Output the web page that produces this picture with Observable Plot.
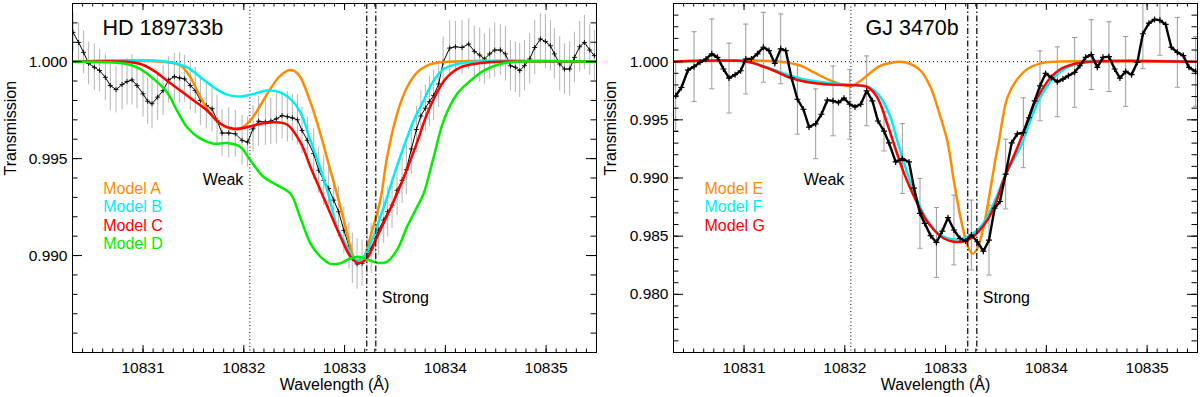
<!DOCTYPE html>
<html><head><meta charset="utf-8">
<script src="https://cdn.jsdelivr.net/npm/d3@7"></script>
<script src="https://cdn.jsdelivr.net/npm/@observablehq/plot@0.6"></script>
<style>
html,body{margin:0;padding:0;background:#fff;}
#wrap{display:flex;width:1200px;height:397px;overflow:hidden;}
#wrap svg{flex:none;}
</style></head><body><div id="wrap"></div>
<script>
// ---------- Line positions (He I triplet, Å) ----------
const weakLine = 10832.06;
const strongLines = [10833.22, 10833.31];

// ---------- Tick labels ----------
const xMajor = [10831, 10832, 10833, 10834, 10835];
const leftYMajor = [0.990, 0.995, 1.000];
const rightYMajor = [0.980, 0.985, 0.990, 0.995, 1.000];

// ---------- HD 189733b observed transmission ----------
const leftWave = [10830.305,10830.361,10830.410,10830.460,10830.517,10830.569,10830.626,10830.675,10830.732,10830.792,
10830.841,10830.891,10830.940,10831.000,10831.046,10831.089,10831.145,10831.199,10831.254,10831.311,
10831.363,10831.413,10831.469,10831.519,10831.569,10831.628,10831.685,10831.734,10831.784,10831.850,
10831.916,10831.983,10832.038,10832.092,10832.147,10832.214,10832.268,10832.323,10832.380,10832.432,
10832.482,10832.532,10832.578,10832.631,10832.693,10832.743,10832.793,10832.842,10832.892,10832.941,
10832.993,10833.043,10833.077,10833.124,10833.174,10833.223,10833.263,10833.306,10833.338,10833.388,
10833.428,10833.471,10833.521,10833.571,10833.613,10833.663,10833.713,10833.757,10833.802,10833.842,
10833.884,10833.934,10833.978,10834.043,10834.100,10834.166,10834.232,10834.288,10834.341,10834.388,
10834.440,10834.490,10834.546,10834.596,10834.646,10834.695,10834.738,10834.785,10834.837,10834.887,
10834.943,10834.993,10835.043,10835.082,10835.135,10835.182,10835.234,10835.281,10835.333,10835.380,
10835.433,10835.479];
const leftTrans = [1.00151,1.00099,1.00048,0.99991,0.99971,0.99954,0.99919,0.99877,0.99856,0.99882,
0.99897,0.99906,0.99877,0.99834,0.99796,0.99783,0.99817,0.99851,0.99906,0.99923,
0.99916,0.99911,0.99877,0.99851,0.99800,0.99774,0.99757,0.99697,0.99632,0.99632,
0.99628,0.99594,0.99585,0.99654,0.99693,0.99688,0.99693,0.99705,0.99722,0.99716,
0.99710,0.99700,0.99645,0.99594,0.99526,0.99440,0.99388,0.99346,0.99286,0.99226,
0.99130,0.99050,0.98986,0.98957,0.98960,0.99012,0.99037,0.99089,0.99131,0.99183,
0.99226,0.99260,0.99337,0.99388,0.99443,0.99550,0.99650,0.99720,0.99760,0.99795,
0.99825,0.99885,0.99997,1.00070,1.00077,1.00073,1.00091,1.00053,1.00034,1.00014,
1.00040,1.00060,1.00060,1.00040,0.99979,0.99971,0.99954,0.99979,1.00014,1.00073,
1.00117,1.00104,1.00082,1.00040,0.99988,0.99962,0.99962,1.00022,1.00077,1.00099,
1.00060,1.00031];
const leftErr = [0.0010,0.0010,0.0011,0.0011,0.0012,0.0011,0.0012,0.0013,0.0012,0.0013,0.0012,0.0013,0.0012,0.0012,
0.0012,0.0013,0.0012,0.0013,0.0012,0.0012,0.0013,0.0012,0.0013,0.0012,0.0013,0.0012,0.0012,0.0013,0.0012,0.0013,0.0012,0.0013,0.0013,0.0012,0.0013,0.0012,0.0012,0.0013,0.0012,0.0013,0.0012,0.0013,0.0012,0.0012,0.0013,
0.0012,0.0013,0.0012,0.0012,0.0013,0.0012,0.0012,0.0013,0.0013,0.0012,0.0012,0.0013,0.0012,0.0013,0.0012,0.0013,0.0012,0.0013,0.0012,0.0013,0.0013,0.0012,0.0013,0.0012,0.0013,0.0013,0.0012,
0.0013,0.0014,0.0013,0.0014,0.0013,0.0013,0.0014,0.0013,0.0013,0.0014,0.0013,0.0014,0.0013,0.0013,0.0014,0.0013,0.0013,0.0014,0.0013,0.0014,0.0013,0.0013,0.0014,0.0013,0.0014,0.0013,0.0013,0.0014,0.0013,0.0013];

// ---------- HD 189733b models ----------
const modelAWave = [10830.30,10831.172,10831.370,10831.469,10831.569,10831.668,10831.767,10831.867,10831.966,10832.065,10832.164,10832.264,10832.363,10832.462,10832.544,10832.661,10832.760,10832.859,10832.959,10833.025,10833.090,10833.140,10833.187,10833.256,10833.355,10833.422,10833.521,10833.620,10833.720,10833.819,10833.951,10835.50];
const modelATrans = [1.0,1.0,0.9998,0.9992,0.99817,0.99731,0.9968,0.99654,0.99654,0.99697,0.99774,0.9986,0.99928,0.99957,0.99933,0.99791,0.99628,0.9944,0.99251,0.99114,0.98994,0.98969,0.98985,0.99097,0.99286,0.99508,0.99731,0.99868,0.99945,0.9998,0.99997,1.0];
const modelBWave = [10830.30,10831.238,10831.437,10831.569,10831.701,10831.834,10831.966,10832.098,10832.231,10832.363,10832.462,10832.561,10832.661,10832.760,10832.842,10832.926,10833.025,10833.107,10833.190,10833.273,10833.355,10833.422,10833.487,10833.587,10833.686,10833.785,10833.884,10833.984,10834.117,10834.28,10835.50];
const modelBTrans = [1.0,1.0,0.99971,0.9992,0.99868,0.9983,0.9982,0.99834,0.99851,0.99842,0.99808,0.9974,0.99594,0.99449,0.99311,0.99148,0.99046,0.98977,0.98994,0.9908,0.992,0.993,0.9941,0.9956,0.99697,0.998,0.99902,0.99962,0.99988,1.0,1.0];
const modelCWave = [10830.30,10830.841,10830.973,10831.105,10831.238,10831.370,10831.502,10831.635,10831.767,10831.899,10832.032,10832.164,10832.296,10832.429,10832.561,10832.661,10832.760,10832.859,10832.959,10833.060,10833.140,10833.223,10833.323,10833.422,10833.521,10833.620,10833.720,10833.819,10833.918,10834.017,10834.149,10834.348,10834.546,10835.50];
const modelCTrans = [1.0,1.0,0.99988,0.99954,0.99902,0.99851,0.998,0.99748,0.9968,0.99654,0.99662,0.9968,0.99688,0.99676,0.99585,0.99457,0.99337,0.99217,0.99097,0.98994,0.9896,0.98986,0.99097,0.99205,0.9932,0.99445,0.99585,0.99731,0.99842,0.9992,0.99971,0.99993,1.0,1.0];
const modelDWave = [10830.30,10830.675,10830.841,10830.973,10831.105,10831.238,10831.337,10831.437,10831.569,10831.701,10831.834,10831.966,10832.065,10832.197,10832.330,10832.462,10832.561,10832.661,10832.760,10832.859,10832.959,10833.060,10833.140,10833.223,10833.323,10833.422,10833.521,10833.620,10833.720,10833.785,10833.884,10833.984,10834.117,10834.249,10834.381,10834.546,10834.71,10835.50];
const modelDTrans = [1.0,0.99997,0.99988,0.99962,0.99911,0.99842,0.99748,0.99662,0.99603,0.99577,0.9958,0.9956,0.99491,0.99405,0.99363,0.9932,0.99195,0.99063,0.98994,0.98957,0.9896,0.98986,0.98994,0.98981,0.98963,0.98969,0.99029,0.99148,0.99251,0.9932,0.99508,0.99697,0.99834,0.99902,0.99954,0.99988,1.0,1.0];

// ---------- GJ 3470b observed transmission ----------
const rightWave = [10830.322,10830.379,10830.444,10830.504,10830.563,10830.623,10830.680,10830.736,10830.796,10830.851,
10830.911,10830.967,10831.017,10831.073,10831.133,10831.192,10831.248,10831.305,10831.364,10831.414,
10831.470,10831.530,10831.589,10831.645,10831.711,10831.768,10831.827,10831.883,10831.937,10831.992,
10832.049,10832.101,10832.158,10832.217,10832.274,10832.329,10832.389,10832.438,10832.505,10832.571,
10832.637,10832.687,10832.746,10832.793,10832.852,10832.909,10832.968,10833.024,10833.083,10833.143,
10833.199,10833.256,10833.315,10833.375,10833.431,10833.487,10833.540,10833.596,10833.656,10833.712,
10833.772,10833.827,10833.884,10833.937,10833.993,10834.050,10834.109,10834.165,10834.218,10834.281,
10834.333,10834.390,10834.446,10834.506,10834.562,10834.621,10834.678,10834.730,10834.787,10834.846,
10834.903,10834.958,10835.018,10835.074,10835.127,10835.184,10835.240,10835.300,10835.359,10835.415,
10835.481];
const rightTrans = [0.99706,0.99778,0.99928,0.99957,0.99994,1.00023,1.00067,1.00037,0.99937,0.99859,
0.99888,0.99922,1.00023,1.00023,1.00067,1.00124,1.00095,0.99985,1.00110,1.00095,
0.99864,0.99677,0.99591,0.99438,0.99466,0.99548,0.99669,0.99663,0.99648,0.99686,
0.99634,0.99611,0.99634,0.99749,0.99663,0.99490,0.99403,0.99302,0.99138,0.99167,
0.99138,0.98913,0.98696,0.98610,0.98504,0.98446,0.98544,0.98659,0.98553,0.98480,
0.98458,0.98510,0.98452,0.98371,0.98466,0.98740,0.98798,0.99034,0.99302,0.99380,
0.99389,0.99518,0.99663,0.99792,0.99899,0.99864,0.99827,0.99850,0.99879,0.99908,
0.99965,1.00037,1.00061,0.99951,1.00037,1.00043,0.99937,0.99859,0.99916,0.99888,
0.99994,1.00240,1.00331,1.00363,1.00355,1.00320,1.00124,1.00080,1.00052,0.99951,
0.99916];
// error bars drawn on every third point
const rightErrStep = 3;
const rightErr = [0.003,0.003,0.003,0.003,0.003,0.003,0.003,0.003,0.003,0.003,0.003,0.003,0.0017,0.003,0.003,0.003,
0.003,0.003,0.003,0.003,0.003,0.003,0.003,0.003,0.003,0.003,0.003,0.003,0.003,0.003,0.003];

// ---------- GJ 3470b models ----------
const modelEWave = [10830.30,10831.364,10831.562,10831.694,10831.827,10831.959,10832.059,10832.158,10832.257,10832.356,10832.455,10832.555,10832.654,10832.753,10832.852,10832.951,10833.018,10833.083,10833.150,10833.216,10833.266,10833.315,10833.381,10833.447,10833.497,10833.530,10833.613,10833.712,10833.812,10833.943,10834.109,10835.50];
const modelETrans = [1.0,1.0,0.99965,0.99907,0.9985,0.99807,0.99792,0.99836,0.99907,0.99965,0.99989,1.0,0.9998,0.99922,0.99778,0.99518,0.99317,0.98971,0.98653,0.98423,0.9835,0.98394,0.98596,0.98913,0.99172,0.99317,0.99691,0.9985,0.99937,0.99985,1.0,1.0];
const modelFWave = [10830.30,10831.034,10831.232,10831.431,10831.629,10831.893,10832.158,10832.257,10832.356,10832.455,10832.522,10832.637,10832.753,10832.852,10832.951,10833.051,10833.150,10833.249,10833.348,10833.431,10833.514,10833.596,10833.745,10833.844,10833.943,10834.043,10834.142,10834.274,10834.407,10835.50];
const modelFTrans = [1.0,1.0,0.99951,0.99888,0.99842,0.99812,0.99792,0.99772,0.99691,0.99518,0.99317,0.98999,0.9874,0.98596,0.98509,0.98475,0.98475,0.98509,0.98581,0.98696,0.98856,0.9903,0.9927,0.995,0.997,0.9983,0.99915,0.99974,1.0,1.0];
const modelGWave = [10830.30,10831.034,10831.166,10831.298,10831.431,10831.562,10831.728,10831.893,10832.059,10832.224,10832.323,10832.423,10832.488,10832.587,10832.687,10832.786,10832.885,10832.984,10833.083,10833.167,10833.249,10833.331,10833.415,10833.497,10833.579,10833.712,10833.795,10833.877,10833.960,10834.043,10834.142,10834.274,10834.440,10835.50];
const modelGTrans = [1.0,1.0,0.99965,0.99922,0.9987,0.99836,0.99812,0.99801,0.99798,0.99784,0.99691,0.99461,0.9929,0.99042,0.98841,0.98668,0.98553,0.9848,0.98452,0.98452,0.9848,0.98544,0.98639,0.98783,0.9899,0.9926,0.99446,0.99634,0.99764,0.99864,0.99937,0.9998,1.0,1.0];

// ---------- Helpers ----------
const FONT = "'Liberation Sans', Arial, Helvetica, sans-serif";
const zip = (w, t) => w.map((x, i) => ({w: x, t: t[i]}));
const plusSymbol = {draw(ctx, size) { const r = Math.sqrt(size / Math.PI); ctx.moveTo(-r, 0); ctx.lineTo(r, 0); ctx.moveTo(0, -r); ctx.lineTo(0, r); }};
const capSymbol = {draw(ctx, size) { const r = Math.sqrt(size / Math.PI); ctx.moveTo(-r, 0); ctx.lineTo(r, 0); }};

function panel(cfg) {
  const W = 600, H = 397, mt = 3, mb = 45;
  const fh = H - mt - mb, fw = W - cfg.ml - cfg.mr;
  const xMinor = d3.range(108303, 108356).map(i => i / 10);
  const yMinor = d3.range(Math.round(cfg.yDomain[0] * 1000), Math.round(cfg.yDomain[1] * 1000) + 1).map(i => i / 1000);
  const marks = [
    Plot.ruleY([1], {stroke: "black", strokeWidth: 1, strokeDasharray: "1,3"}),
    Plot.ruleX([weakLine], {stroke: "black", strokeWidth: 1, strokeDasharray: "1,2.5"}),
    ...cfg.dataMarks,
    Plot.ruleX(strongLines, {stroke: "black", strokeWidth: 1.2, strokeDasharray: "6,2.5,1.5,2.5"}),
    Plot.frame({stroke: "black", strokeWidth: 1}),
    // inward ticks, all four sides
    Plot.ruleX(xMinor, {insetTop: fh - 3.5, stroke: "black"}),
    Plot.ruleX(xMinor, {insetBottom: fh - 3.5, stroke: "black"}),
    Plot.ruleX(xMajor, {insetTop: fh - 7, stroke: "black"}),
    Plot.ruleX(xMajor, {insetBottom: fh - 7, stroke: "black"}),
    Plot.ruleY(yMinor, {insetRight: fw - 5.5, stroke: "black"}),
    Plot.ruleY(yMinor, {insetLeft: fw - 5.5, stroke: "black"}),
    Plot.ruleY(cfg.yMajor, {insetRight: fw - 10, stroke: "black"}),
    Plot.ruleY(cfg.yMajor, {insetLeft: fw - 10, stroke: "black"}),
    // tick labels
    Plot.text(xMajor, {x: d => d, text: d => String(d), frameAnchor: "bottom", dy: 20.7, lineAnchor: "bottom", fontSize: 15.5, fill: "black"}),
    Plot.text(cfg.yMajor, {y: d => d, text: d => d.toFixed(3), frameAnchor: "left", dx: -5, textAnchor: "end", lineAnchor: "middle", fontSize: 15.5, fill: "black"}),
    // axis titles
    Plot.text(["Wavelength (Å)"], {text: d => d, frameAnchor: "bottom", dy: 37.7, lineAnchor: "bottom", fontSize: 16, fill: "black"}),
    Plot.text(["Transmission"], {text: d => d, frameAnchor: "left", dx: cfg.yLabelDx, dy: -2.5, rotate: -90, lineAnchor: "bottom", fontSize: 16, fill: "black"}),
    // panel title
    Plot.text([cfg.title], {text: d => d, frameAnchor: "top-left", dx: cfg.titleDx, dy: 31.3, textAnchor: "start", lineAnchor: "bottom", fontSize: 21.5, fill: "black"}),
    // line labels
    Plot.text(["Weak"], {x: weakLine, text: d => d, frameAnchor: "top", dy: 181, dx: -6.5, textAnchor: "end", lineAnchor: "bottom", fontSize: 16, fill: "black"}),
    Plot.text(["Strong"], {x: strongLines[1], text: d => d, frameAnchor: "top", dy: 299.7, dx: 6, textAnchor: "start", lineAnchor: "bottom", fontSize: 16, fill: "black"}),
    // legend
    ...cfg.legend.map((L, i) => Plot.text([L.name], {text: d => d, frameAnchor: "top-left", dx: cfg.legendDx, dy: 190.3 + i * 18.4, textAnchor: "start", lineAnchor: "bottom", fontSize: 16, fill: L.color}))
  ];
  return Plot.plot({
    width: W, height: H,
    marginLeft: cfg.ml, marginRight: cfg.mr, marginTop: mt, marginBottom: mb,
    x: {domain: [10830.3, 10835.5], axis: null},
    y: {domain: cfg.yDomain, axis: null},
    style: {fontFamily: FONT, fontSize: "16px", background: "white", color: "black", overflow: "visible"},
    marks
  });
}

const orange = "#FF8C00", cyan = "#00EEF2", red = "#FF0000", green = "#00EE00";

// ---------- Left panel ----------
const leftData = leftWave.map((w, i) => ({w, t: leftTrans[i], e: leftErr[i] ?? 0.0012}));
const leftModels = [
  {name: "Model A", color: orange, d: zip(modelAWave, modelATrans)},
  {name: "Model B", color: cyan, d: zip(modelBWave, modelBTrans)},
  {name: "Model C", color: red, d: zip(modelCWave, modelCTrans)},
  {name: "Model D", color: green, d: zip(modelDWave, modelDTrans)}
];
const leftMarks = [
  Plot.ruleX(leftData, {x: "w", y1: d => d.t - d.e, y2: d => d.t + d.e, stroke: "#b4b4b4", strokeWidth: 1, clip: true}),
  Plot.line(leftData, {x: "w", y: "t", stroke: "black", strokeWidth: 1, clip: true}),
  Plot.dot(leftData, {x: "w", y: "t", symbol: plusSymbol, r: 2.5, stroke: "black", strokeWidth: 0.9, fill: "none", clip: true}),
  ...leftModels.map(m => Plot.line(m.d, {x: "w", y: "t", stroke: m.color, strokeWidth: 2.5, curve: "catmull-rom", clip: true}))
];

// ---------- Right panel ----------
const rightData = rightWave.map((w, i) => ({w, t: rightTrans[i]}));
const rightBars = rightData.filter((d, i) => i % rightErrStep === 0).map((d, k) => ({...d, e: rightErr[k] ?? 0.003}));
const rightModels = [
  {name: "Model E", color: orange, d: zip(modelEWave, modelETrans)},
  {name: "Model F", color: cyan, d: zip(modelFWave, modelFTrans)},
  {name: "Model G", color: red, d: zip(modelGWave, modelGTrans)}
];
const rightMarks = [
  Plot.ruleX(rightBars, {x: "w", y1: d => d.t - d.e, y2: d => d.t + d.e, stroke: "#9a9a9a", strokeWidth: 1, clip: true}),
  Plot.dot(rightBars, {x: "w", y: d => d.t - d.e, symbol: capSymbol, r: 2.6, stroke: "#9a9a9a", strokeWidth: 1, clip: true}),
  Plot.dot(rightBars, {x: "w", y: d => d.t + d.e, symbol: capSymbol, r: 2.6, stroke: "#9a9a9a", strokeWidth: 1, clip: true}),
  ...rightModels.map(m => Plot.line(m.d, {x: "w", y: "t", stroke: m.color, strokeWidth: 2.5, curve: "catmull-rom", clip: true})),
  Plot.line(rightData, {x: "w", y: "t", stroke: "black", strokeWidth: 2.4, clip: true}),
  Plot.dot(rightData, {x: "w", y: "t", symbol: plusSymbol, r: 3, stroke: "black", strokeWidth: 1.2, fill: "none", clip: true})
];

const wrap = document.getElementById("wrap");
wrap.appendChild(panel({
  ml: 72, mr: 4, yDomain: [0.985, 1.003], yMajor: leftYMajor,
  title: "HD 189733b", titleDx: 30, legendDx: 30.7, yLabelDx: -57,
  dataMarks: leftMarks, legend: leftModels
}));
wrap.appendChild(panel({
  ml: 73, mr: 3, yDomain: [0.975, 1.005], yMajor: rightYMajor,
  title: "GJ 3470b", titleDx: 192, legendDx: 31, yLabelDx: -58,
  dataMarks: rightMarks, legend: rightModels
}));
</script></body></html>
